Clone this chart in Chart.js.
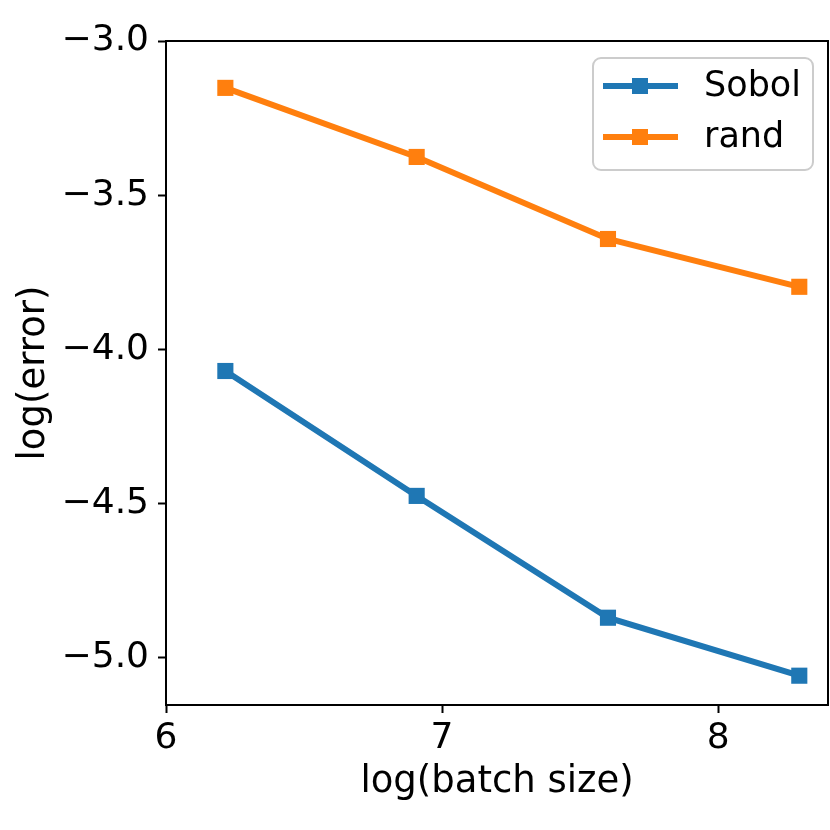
<!DOCTYPE html>
<html>
<head>
<meta charset="utf-8">
<script src="https://cdn.jsdelivr.net/npm/chart.js@4"></script>
<style>
  html, body { margin: 0; padding: 0; background: #fff; }
  #chart { display: block; }
</style>
</head>
<body>
<canvas id="chart" width="830" height="830"></canvas>
<script>
// ===========================
// DATA
// ===========================
const logBatch = [6.215, 6.908, 7.601, 8.294];
const sobolErr = [-4.070, -4.475, -4.870, -5.058];
const randErr = [-3.152, -3.376, -3.642, -3.797];

const xTicks = [6, 7, 8];
const yTicks = [-5.0, -4.5, -4.0, -3.5, -3.0];

const FONT = 'DejaVu Sans';
const minus = v => String(v).replace('-', '\u2212');

// frame round the plot area (matplotlib spines)
const framePlugin = {
  id: 'frame',
  afterDatasetsDraw(chart) {
    const { ctx, chartArea: a } = chart;
    ctx.save();
    ctx.strokeStyle = '#000';
    ctx.lineWidth = 2;
    ctx.strokeRect(a.left, a.top, a.right - a.left, a.bottom - a.top);
    ctx.restore();
  }
};

// legend box in the upper right, line + marker handles
const legendPlugin = {
  id: 'boxLegend',
  afterDraw(chart) {
    const { ctx } = chart;
    const x = 593, y = 58, w = 220, h = 112, r = 8;
    ctx.save();
    ctx.beginPath();
    ctx.roundRect(x, y, w, h, r);
    ctx.fillStyle = 'rgba(255,255,255,0.8)';
    ctx.fill();
    ctx.strokeStyle = '#cccccc';
    ctx.lineWidth = 2;
    ctx.stroke();

    chart.data.datasets.forEach((ds, i) => {
      const cy = 86 + i * 51;
      ctx.strokeStyle = ds.borderColor;
      ctx.lineWidth = 6;
      ctx.beginPath();
      ctx.moveTo(603, cy);
      ctx.lineTo(678, cy);
      ctx.stroke();
      ctx.fillStyle = ds.borderColor;
      ctx.fillRect(640 - 8, cy - 8, 16, 16);
      ctx.fillStyle = '#000';
      ctx.font = `35px "${FONT}"`;
      ctx.textBaseline = 'middle';
      ctx.textAlign = 'left';
      ctx.fillText(ds.label, 704, cy + 1);
    });
    ctx.restore();
  }
};

const ctx = document.getElementById('chart').getContext('2d');

new Chart(ctx, {
  type: 'line',
  data: {
    datasets: [{
      label: 'Sobol',
      data: logBatch.map((x, i) => ({ x, y: sobolErr[i] })),
      borderColor: '#1f77b4',
      backgroundColor: '#1f77b4',
      borderWidth: 6,
      pointStyle: 'rect',
      pointRadius: 11.4,
      pointBorderWidth: 0,
      tension: 0
    }, {
      label: 'rand',
      data: logBatch.map((x, i) => ({ x, y: randErr[i] })),
      borderColor: '#ff7f0e',
      backgroundColor: '#ff7f0e',
      borderWidth: 6,
      pointStyle: 'rect',
      pointRadius: 11.4,
      pointBorderWidth: 0,
      tension: 0
    }]
  },
  options: {
    responsive: false,
    animation: false,
    layout: { autoPadding: false, padding: { top: 41, right: 2, left: 0, bottom: 0 } },
    scales: {
      x: {
        type: 'linear',
        min: 6,
        max: 8.398,
        afterBuildTicks: s => { s.ticks = xTicks.map(v => ({ value: v })); },
        afterFit: s => { s.height = 125; },
        grid: { drawOnChartArea: false, drawTicks: true, tickLength: 8, tickWidth: 2, tickColor: '#000' },
        border: { display: false },
        ticks: {
          color: '#000',
          padding: 4,
          maxRotation: 0,
          font: { family: FONT, size: 36 },
          callback: v => String(v)
        },
        title: {
          display: true,
          text: 'log(batch size)',
          color: '#000',
          padding: { top: 0, bottom: 25 },
          font: { family: FONT, size: 37 }
        }
      },
      y: {
        type: 'linear',
        min: -5.153,
        max: -3.0,
        afterBuildTicks: s => { s.ticks = yTicks.map(v => ({ value: v })); },
        afterFit: s => { s.width = 166; },
        grid: { drawOnChartArea: false, drawTicks: true, tickLength: 8, tickWidth: 2, tickColor: '#000' },
        border: { display: false },
        ticks: {
          color: '#000',
          padding: 9,
          font: { family: FONT, size: 36 },
          callback: v => minus(v.toFixed(1))
        },
        title: {
          display: true,
          text: 'log(error)',
          color: '#000',
          padding: { top: 12, bottom: 0 },
          font: { family: FONT, size: 37 }
        }
      }
    },
    plugins: {
      legend: { display: false },
      tooltip: { enabled: false }
    }
  },
  plugins: [framePlugin, legendPlugin]
});
</script>
</body>
</html>
